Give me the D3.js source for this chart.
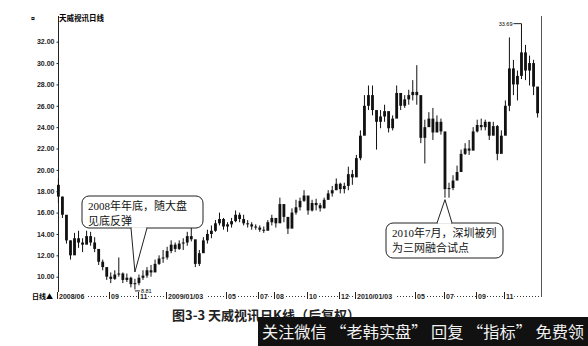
<!DOCTYPE html>
<html><head><meta charset="utf-8">
<script src="https://cdn.jsdelivr.net/npm/d3@7"></script>
<style>body{margin:0;background:#fff}svg{display:block}</style>
</head><body>
<script>
// ---- data (approx. 4 trading days per candle) ----
const highs = [19.2,17.5,14.8,13.4,14.1,14.3,13.6,14.3,14.2,13.7,12.4,11.6,10.8,10.4,10.6,11.8,10.4,10.3,10.0,9.8,
  10.2,10.6,10.9,11.1,11.6,12.0,12.5,12.8,13.4,13.2,13.4,13.6,14.2,14.6,12.5,12.5,13.7,14.4,14.8,15.3,
  16.0,15.5,15.1,15.5,16.2,16.0,15.8,15.3,15.1,14.9,14.8,14.7,15.3,15.8,15.5,17.4,16.7,15.5,16.4,17.2,
  17.4,18.1,17.3,17.2,17.3,16.9,17.4,18.1,18.5,19.2,18.8,18.8,20.3,20.0,21.4,23.7,27.0,27.9,27.9,25.1,
  25.6,26.1,24.7,25.1,27.9,27.0,27.0,27.5,28.4,29.8,25.6,24.7,25.4,25.8,25.1,24.8,21.9,18.8,19.5,20.4,
  21.9,22.5,22.8,24.0,24.7,24.8,24.7,24.5,24.5,24.2,23.7,26.5,32.4,30.3,29.3,33.69,31.7,30.7,30.3,27.5];
const lows = [16.9,15.5,13.1,11.6,12.5,12.7,12.3,13.1,12.9,12.3,11.1,10.6,9.7,9.4,9.7,10.0,9.4,9.5,9.0,8.81,
  9.2,9.7,9.9,10.0,10.6,11.1,11.3,11.6,12.2,12.3,12.5,12.5,12.9,13.3,10.9,11.0,12.5,13.1,13.6,14.2,
  14.8,14.4,14.2,14.6,15.1,15.1,14.8,14.6,14.4,14.4,14.2,14.1,14.4,14.8,14.6,15.3,15.1,14.0,14.8,15.8,
  16.2,17.0,15.8,16.1,16.2,16.1,16.4,17.2,17.5,18.1,17.8,17.8,18.1,18.6,19.8,20.9,23.9,25.6,25.1,21.9,
  23.9,24.5,23.5,23.7,25.6,25.6,25.8,26.1,26.5,26.1,22.5,20.6,24.2,22.8,23.7,23.3,17.4,17.4,18.1,19.2,
  20.2,21.4,21.4,22.3,23.5,23.7,23.7,22.8,23.3,20.9,21.9,23.3,25.5,27.0,26.5,28.5,28.4,27.9,27.0,24.9];
const closes = [17.5,15.8,13.4,12.0,13.6,13.2,13.0,13.8,13.2,12.6,11.4,10.9,10.0,9.8,10.2,10.3,9.7,9.9,9.3,9.4,
  9.9,10.1,10.6,10.4,11.2,11.7,11.8,12.4,13.0,12.6,13.1,13.2,13.8,13.5,11.2,12.2,13.4,14.0,14.3,15.0,
  15.4,14.7,14.9,15.2,15.8,15.4,15.0,14.9,14.7,14.6,14.4,14.3,15.1,15.5,15.0,16.8,15.6,14.5,16.0,16.5,
  17.1,17.6,16.2,16.9,16.7,16.4,17.2,17.8,18.1,18.7,18.2,18.5,19.6,19.3,21.1,23.2,26.0,27.0,25.6,24.5,
  25.0,25.5,23.9,24.8,27.2,26.0,26.6,27.0,27.3,27.0,23.0,24.0,24.8,23.5,24.5,23.6,18.2,18.3,19.0,19.8,
  21.5,22.0,21.8,23.6,24.2,24.0,24.5,23.2,24.1,21.5,23.2,26.0,29.5,28.0,28.8,31.0,29.3,30.0,27.8,25.3];
const firstOpen = 18.6;
const yTicks = [10,12,14,16,18,20,22,24,26,28,30,32];
const xTickIndex = [0,13,20,27,42,50,54,62,70,74,89,96,104,111];
const xTickLabels = ["2008/06","09","11","2009/01/03","05","07","08","10","12","2010/01/03","05","07","09","11"];
const title = "天威视讯日线";
const caption = "图3-3  天威视讯日K线（后复权）";
const banner = "关注微信 “老韩实盘” 回复 “指标” 免费领";
const note1 = ["2008年年底，随大盘", "见底反弹"];
const note2 = ["2010年7月，深圳被列", "为三网融合试点"];
const lowValue = 8.81, highValue = 33.69;

const data = highs.map((h,i)=>({i, high:h, low:lows[i], close:closes[i], open: i===0?firstOpen:closes[i-1]}));

const W=588,H=346;
const svg=d3.select("body").append("svg").attr("width",W).attr("height",H);
const x=d3.scaleBand().domain(d3.range(data.length)).range([57,539]).paddingInner(0.3);
const y=d3.scaleLinear().domain([10,32]).range([276.7,41.7]);
const axisFont='"Liberation Sans",Arial,sans-serif';

// frame lines
svg.append("line").attr("x1",58.5).attr("x2",58.5).attr("y1",16).attr("y2",297).attr("stroke","#222").attr("stroke-width",1);
svg.append("line").attr("x1",541.5).attr("x2",541.5).attr("y1",16).attr("y2",297).attr("stroke","#555").attr("stroke-width",1);

// y axis
const ya=svg.append("g").attr("transform","translate(58.5,0)")
  .call(d3.axisLeft(y).tickValues(yTicks).tickFormat(d3.format(".2f")).tickSize(2).tickPadding(2));
ya.select(".domain").remove();
ya.selectAll("text").attr("font-family",axisFont).attr("font-size",7).attr("font-weight","bold").attr("fill","#222");
ya.selectAll("line").attr("stroke","#222");

svg.append("text").attr("x",31).attr("y",21).attr("font-family",axisFont).attr("font-size",7).attr("font-weight","bold").text("¤");
svg.append("text").attr("x",59).attr("y",21).attr("font-family",'"Noto Sans CJK SC",sans-serif').attr("font-size",7.5).attr("font-weight","bold").text(title);

// bottom axis (dotted)
svg.append("line").attr("x1",58).attr("x2",541).attr("y1",296.5).attr("y2",296.5)
  .attr("stroke","#333").attr("stroke-dasharray","1,2");
svg.append("text").attr("x",32).attr("y",299).attr("font-family",'"Noto Sans CJK SC",sans-serif').attr("font-size",7).attr("font-weight","bold").text("日线▲");
const xt=svg.append("g").selectAll("g").data(xTickIndex).join("g")
  .attr("transform",d=>`translate(${Math.round(x(d))+0.5},0)`);
xt.append("rect").attr("x",0).attr("y",292).attr("height",8)
  .attr("width",(d,k)=>xTickLabels[k].length*3.9+2).attr("fill","#fff");
xt.append("line").attr("y1",292).attr("y2",299).attr("stroke","#222");
xt.append("text").attr("x",1.5).attr("y",299).attr("font-family",axisFont).attr("font-size",7).attr("font-weight","bold")
  .attr("fill","#222").text((d,k)=>xTickLabels[k]);

// candles
const cg=svg.append("g");
const bw=x.bandwidth();
cg.selectAll("line.w").data(data).join("line").attr("class","w")
  .attr("x1",d=>x(d.i)+bw/2).attr("x2",d=>x(d.i)+bw/2)
  .attr("y1",d=>y(d.high)).attr("y2",d=>y(d.low)).attr("stroke","#111").attr("stroke-width",1);
cg.selectAll("rect").data(data).join("rect")
  .attr("x",d=>x(d.i)).attr("width",bw)
  .attr("y",d=>y(Math.max(d.open,d.close)))
  .attr("height",d=>Math.max(1,Math.abs(y(d.open)-y(d.close))))
  .attr("fill","#111");

// low / high markers
const iLow=lows.indexOf(lowValue), iHigh=highs.indexOf(highValue);
svg.append("line").attr("x1",x(iLow)+bw/2).attr("x2",x(iLow)+bw/2+5).attr("y1",y(lowValue)+1.5).attr("y2",y(lowValue)+1.5).attr("stroke","#222");
svg.append("text").attr("x",x(iLow)+bw/2+6).attr("y",y(lowValue)+4).attr("font-family",axisFont).attr("font-size",5.5).text(lowValue.toFixed(2));
svg.append("line").attr("x1",x(iHigh)+bw/2-8).attr("x2",x(iHigh)+bw/2).attr("y1",y(highValue)).attr("y2",y(highValue)).attr("stroke","#222");
svg.append("text").attr("x",x(iHigh)+bw/2-9).attr("y",y(highValue)+2).attr("text-anchor","end").attr("font-family",axisFont).attr("font-size",5.5).text(highValue.toFixed(2));

// callouts
const noteFont='"Liberation Serif","Noto Sans CJK SC",serif';
function callout(bx,by,bw_,bh,tip,baseL,baseR,lines){
  const g=svg.append("g");
  g.append("rect").attr("x",bx).attr("y",by).attr("width",bw_).attr("height",bh).attr("rx",7)
    .attr("fill","#fff").attr("stroke","#222").attr("stroke-width",1);
  const yb = tip[1]>by ? by+bh : by;
  g.append("path").attr("d",`M${baseL},${yb} L${tip[0]},${tip[1]} L${baseR},${yb}`).attr("fill","#fff").attr("stroke","#222");
  g.append("line").attr("x1",baseL+1).attr("x2",baseR-1).attr("y1",yb).attr("y2",yb).attr("stroke","#fff").attr("stroke-width",1.6);
  lines.forEach((t,k)=>g.append("text").attr("x",bx+6).attr("y",by+14+k*14.5)
    .attr("font-family",noteFont).attr("font-size",11).attr("fill","#111").text(t));
}
callout(82,196,121,32,[x(19)+bw/2,272],131,147,note1);
callout(386,223,117,35,[x(96)+bw/2,y(17.4)+2],437,452,note2);

// caption + banner (banner overlaps the caption, as in the source image)
svg.append("text").attr("x",172).attr("y",320).attr("font-family",'"Noto Sans CJK SC",sans-serif').attr("font-size",13).attr("font-weight","bold").attr("fill","#222").text(caption);
svg.append("rect").attr("x",258).attr("y",317).attr("width",330).attr("height",29).attr("fill","#111");
svg.append("text").attr("x",262).attr("y",338).attr("font-family",'"Noto Sans CJK SC",sans-serif').attr("font-size",16)
  .attr("textLength",322).attr("lengthAdjust","spacingAndGlyphs").attr("fill","#f2f2f2").text(banner);
</script>
</body></html>
